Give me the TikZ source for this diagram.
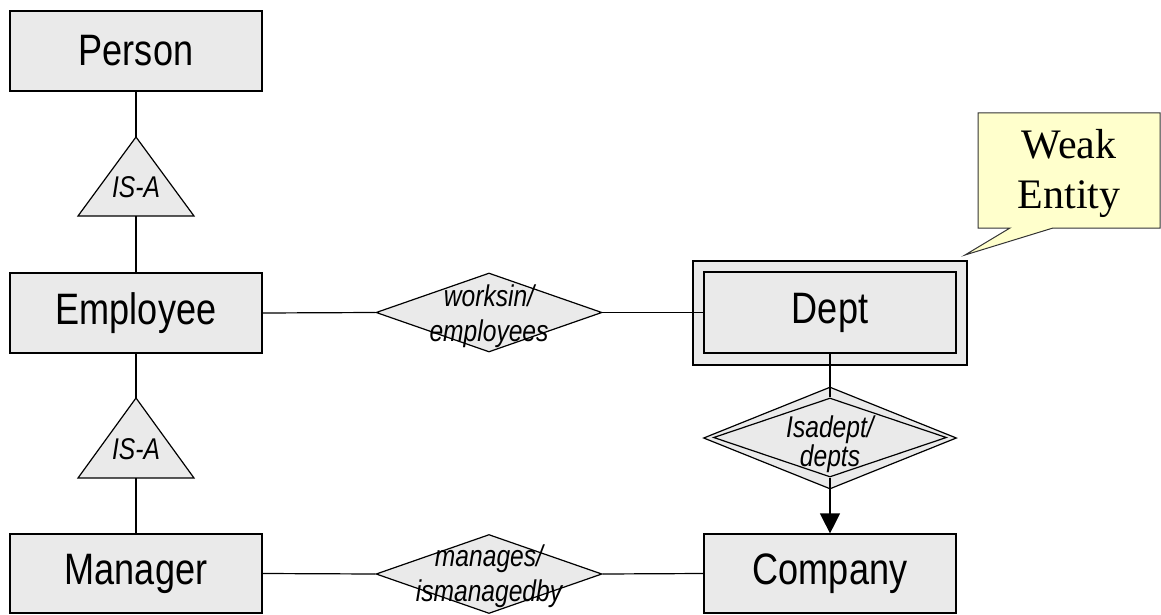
\documentclass[tikz,border=0pt]{standalone}
\usepackage{fontspec}
\setmainfont{Liberation Serif}
\newfontfamily\narrowsf[FakeStretch=0.82]{Liberation Sans}
\usetikzlibrary{shapes.geometric,arrows.meta}
\definecolor{entgray}{RGB}{234,234,234}
\definecolor{noteyellow}{RGB}{255,255,204}

\begin{document}
\begin{tikzpicture}[x=1pt,y=-1pt,line width=1.2pt,
  entity/.style={draw,fill=entgray,inner sep=0pt,minimum width=252pt,minimum height=80pt,font=\narrowsf\fontsize{44}{50}\selectfont},
  rel/.style={draw,fill=entgray,diamond,inner sep=0pt,minimum width=226pt,minimum height=79pt},
  rellabel/.style={inner sep=0pt,align=center,font=\narrowsf\itshape\fontsize{30}{35}\selectfont},
  isa/.style={draw,fill=entgray,line join=miter}]
\useasboundingbox (0,0) rectangle (1161,615);

% entities
\node[entity] (person) at (136,51) {Person};
\node[entity] (employee) at (136,313) {Employee};
\node[entity,minimum height=79pt] (manager) at (136,573.5) {Manager};
\node[entity,minimum height=79pt] (company) at (830,573.5) {Company};
\node[entity,minimum width=274pt,minimum height=104pt] (deptout) at (830,313) {};
\node[entity,minimum height=81pt] (dept) at (830,312.5) {Dept};

% is-a triangles
\draw[isa] (136,137) coordinate (isa1top) -- (194,216) -- (78,216) -- cycle;
\coordinate (isa1bot) at (136,216);
\node[rellabel] (isa1) at (136,187) {IS-A};
\draw[isa] (136,398) coordinate (isa2top) -- (194,478) -- (78,478) -- cycle;
\coordinate (isa2bot) at (136,478);
\node[rellabel] (isa2) at (136,449) {IS-A};

% relationships
\node[rel] (worksin) at (489,312.5) {};
\node[rellabel] (worksintext) at (489,316) {worksin/\\employees};
\node[rel] (manages) at (489,574) {};
\node[rellabel] (managestext) at (489,576) {manages/\\ismanagedby};
\node[rel,minimum width=253pt,minimum height=102pt] (isadeptout) at (830,438) {};
\node[rel,minimum width=233pt,minimum height=79pt] (isadept) at (830,437.5) {};
\node[rellabel,font=\narrowsf\itshape\fontsize{30}{27}\selectfont] (isadepttext) at (830,444) {Isadept/\\depts};

% connectors
\draw (person) -- (isa1top);
\draw (isa1bot) -- (employee);
\draw (employee) -- (isa2top);
\draw (isa2bot) -- (manager);
\draw (employee.east) -- (worksin.west);
\draw (worksin.east) -- (dept.west);
\draw (manager.east) -- (manages.west);
\draw (manages.east) -- (company.west);
\draw (dept) -- (isadept);
\draw[-{Triangle[length=20pt,width=20pt]}] (isadept) -- (company);

% callout
\coordinate (weaktip) at (965,255);
\draw[draw=black!80,line width=1pt,fill=noteyellow] (978,113) -- (1160,113) -- (1160,228)
  -- (1053,228) -- (weaktip) -- (1010,228) -- (978,228) -- cycle;
\node[align=center,inner sep=0pt,font=\fontsize{42}{50}\selectfont] (weak) at (1069,173) {Weak\\Entity};
\end{tikzpicture}
\end{document}
